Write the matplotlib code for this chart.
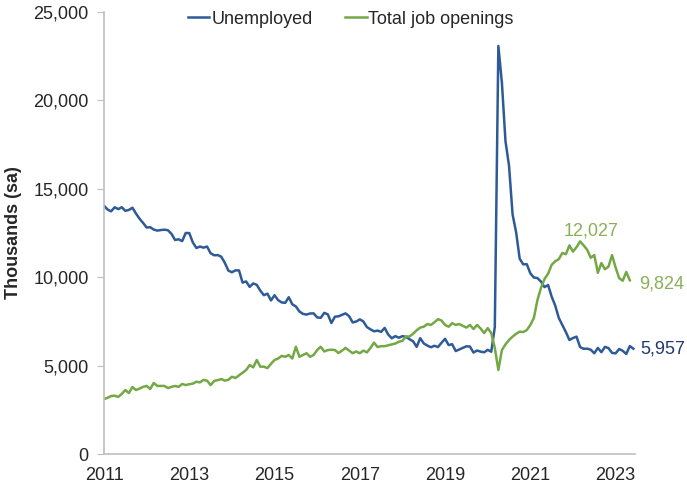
import numpy as np
import matplotlib
matplotlib.use("Agg")
import matplotlib.pyplot as plt

plt.rcParams['font.family'] = ['Liberation Sans', 'DejaVu Sans']

# monthly series, thousands, seasonally adjusted (Jan 2011 onward)
unemployed = [
    14046, 13828, 13728, 13956, 13853, 13958, 13756, 13806, 13929, 13599, 13309, 13071,  # 2011
    12812, 12828, 12696, 12636, 12668, 12688, 12657, 12449, 12106, 12144, 12042, 12502,  # 2012
    12497, 11967, 11653, 11735, 11671, 11736, 11357, 11241, 11251, 11161, 10814, 10376,  # 2013
    10280, 10387, 10384, 9696, 9761, 9453, 9648, 9568, 9237, 8983, 9071, 8688,           # 2014
    8979, 8705, 8575, 8549, 8868, 8469, 8346, 8063, 7927, 7887, 7948, 7954,              # 2015
    7726, 7704, 7985, 7898, 7409, 7768, 7787, 7875, 7954, 7794, 7442, 7495,              # 2016
    7615, 7497, 7179, 7052, 6939, 6981, 6911, 7132, 6759, 6545, 6667, 6577,              # 2017
    6667, 6628, 6491, 6376, 6059, 6552, 6256, 6134, 6039, 6123, 6050, 6294,              # 2018
    6516, 6163, 6210, 5824, 5912, 5994, 6093, 6078, 5739, 5855, 5791, 5753,              # 2019
    5892, 5787, 7185, 23078, 20985, 17697, 16308, 13550, 12535, 11049, 10728, 10736,     # 2020
    10220, 9982, 9950, 9750, 9440, 9560, 8900, 8400, 7700, 7300, 6900, 6450,             # 2021
    6560, 6640, 6050, 5950, 5960, 5900, 5700, 6000, 5760, 6060, 5990, 5720,              # 2022
    5694, 5938, 5839, 5657, 6105, 5957,                                                  # 2023
]

job_openings = [
    3110, 3180, 3280, 3300, 3230, 3400, 3620, 3450, 3790, 3620, 3700, 3800,              # 2011
    3850, 3680, 4020, 3850, 3850, 3850, 3730, 3800, 3850, 3800, 3960, 3900,              # 2012
    3950, 3980, 4090, 4050, 4190, 4150, 3900, 4130, 4180, 4240, 4150, 4200,              # 2013
    4370, 4300, 4450, 4600, 4750, 5030, 4900, 5320, 4940, 4940, 4860, 5100,              # 2014
    5320, 5400, 5550, 5500, 5600, 5400, 6070, 5500, 5600, 5700, 5500, 5600,              # 2015
    5880, 6070, 5800, 5880, 5900, 5880, 5710, 5850, 6000, 5850, 5700, 5800,              # 2016
    5700, 5850, 5750, 6000, 6300, 6050, 6100, 6100, 6150, 6200, 6250, 6350,              # 2017
    6400, 6650, 6650, 6800, 7000, 7150, 7200, 7350, 7300, 7450, 7630, 7550,              # 2018
    7300, 7200, 7400, 7300, 7350, 7250, 7150, 7300, 7070, 7300, 7100, 6840,              # 2019
    7120, 6840, 6000, 4750, 5880, 6200, 6450, 6640, 6800, 6920, 6900, 7010,              # 2020
    7300, 7700, 8710, 9400, 9900, 10200, 10700, 10900, 11020, 11370, 11300, 11800,       # 2021
    11450, 11700, 12027, 11800, 11550, 11100, 11250, 10250, 10800, 10450, 10600, 11250,  # 2022
    10550, 9950, 9800, 10300, 9824,                                                      # 2023
]

year_ticks = [2011, 2013, 2015, 2017, 2019, 2021, 2023]

blue = '#2E5A98'
green = '#74A844'

x_u = 2011 + np.arange(len(unemployed)) / 12
x_j = 2011 + np.arange(len(job_openings)) / 12

fig = plt.figure(figsize=(6.87, 4.86), dpi=100)
ax = fig.add_axes([0.1514, 0.0658, 0.7726, 0.9095])

ax.plot(x_u, unemployed, color=blue, lw=1.8, label='Unemployed')
ax.plot(x_j, job_openings, color=green, lw=1.8, label='Total job openings')

ax.set_xlim(2011, 2023.45)
ax.set_ylim(0, 25000)
ax.set_xticks(year_ticks)
ax.set_xticklabels([str(y) for y in year_ticks])
ax.set_yticks(np.arange(0, 25001, 5000))
ax.yaxis.set_major_formatter(matplotlib.ticker.FuncFormatter(lambda v, p: f'{int(v):,}'))

for s in ['top', 'right']:
    ax.spines[s].set_visible(False)
for s in ['left', 'bottom']:
    ax.spines[s].set_color('#BFBFBF')
    ax.spines[s].set_linewidth(1.2)
ax.tick_params(axis='y', length=5, color='#BFBFBF', labelsize=13, labelcolor='#262626', pad=6)
ax.tick_params(axis='x', length=0, labelsize=13, labelcolor='#262626', pad=9)

ax.set_ylabel('Thousands (sa)', fontsize=13, fontweight='bold', color='#262626', labelpad=8)

# value labels at the peak and the latest points
peak_i = int(np.argmax(job_openings))
ax.annotate(f'{job_openings[peak_i]:,}', (x_j[peak_i], job_openings[peak_i]),
            xytext=(8, 1), textcoords='offset points', ha='center', va='bottom',
            fontsize=13, color='#8AB05A')
ax.annotate(f'{job_openings[-1]:,}', (x_j[-1], job_openings[-1]),
            xytext=(7, -3), textcoords='offset points', ha='left', va='center',
            fontsize=13, color='#8AB05A', annotation_clip=False)
ax.annotate(f'{unemployed[-1]:,}', (x_u[-1], unemployed[-1]),
            xytext=(5, 0), textcoords='offset points', ha='left', va='center',
            fontsize=13, color='#1F3A6E', annotation_clip=False)

ax.legend(loc='upper center', bbox_to_anchor=(0.465, 1.04), ncol=2, frameon=False,
          fontsize=13, handlelength=1.2, handletextpad=0.1, columnspacing=1.8,
          labelcolor='#262626')

fig.savefig('out.png', dpi=100)
